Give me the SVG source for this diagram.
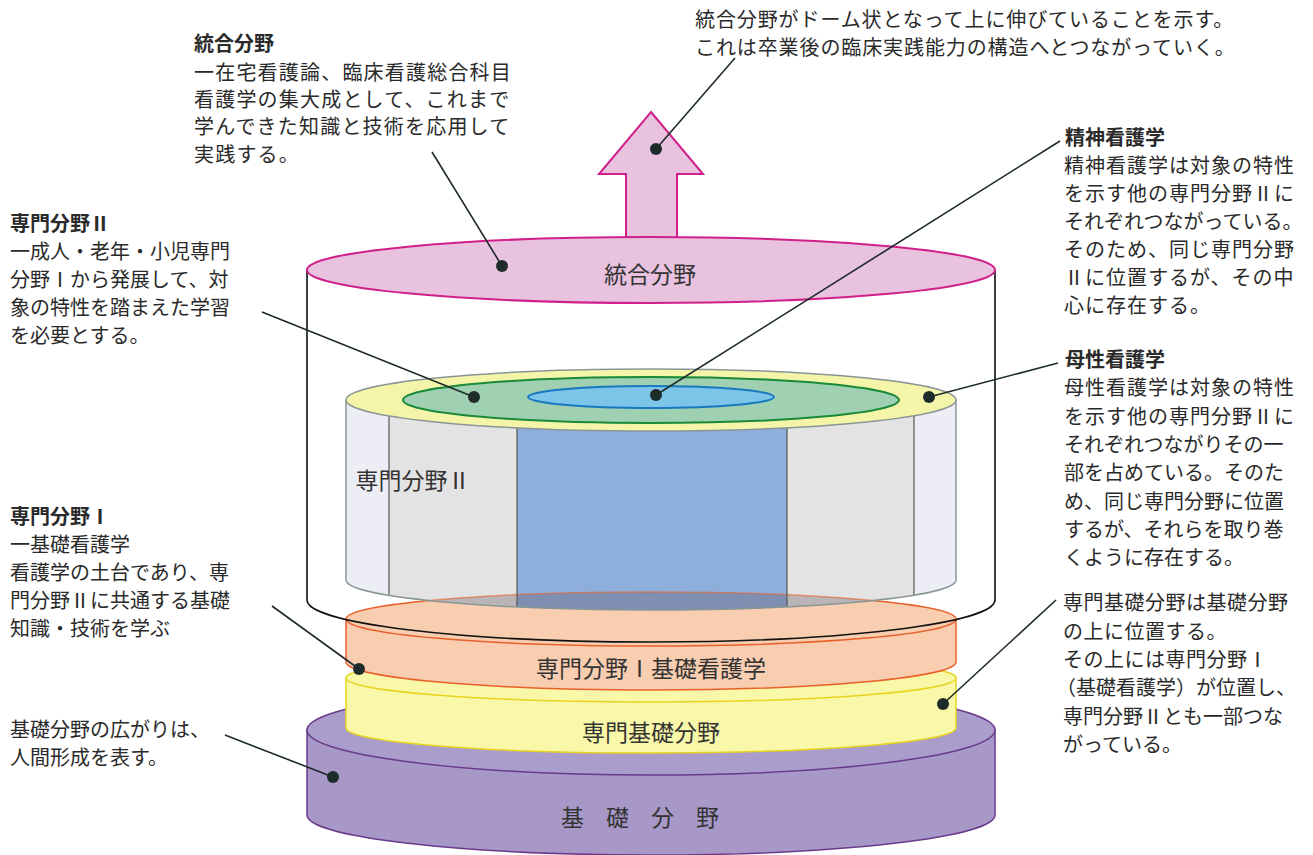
<svg xmlns="http://www.w3.org/2000/svg" width="1313" height="855" viewBox="0 0 1313 855">
<style>
.t{font-family:"Noto Sans CJK JP","Noto Sans",sans-serif;font-size:20px;fill:#2a2a2a}
.b{font-weight:bold}
.lbl{font-family:"Noto Sans CJK JP","Noto Sans",sans-serif;font-size:23px;fill:#333;text-anchor:middle}
.con{stroke:#1e2b2b;stroke-width:1.6;fill:none}
.dot{fill:#1e2b2b}
</style>
<defs>
<clipPath id="ringClip"><path d="M346,400 L346,580 A305,30 0 0 0 956,580 L956,400 Z"/></clipPath>
</defs>
<rect width="1313" height="855" fill="#ffffff"/>

<g id="kiso">
<path d="M307,730 L307,815 A344,40 0 0 0 995,815 L995,730 Z" fill="#a898c8" stroke="#6a3a8a" stroke-width="1.5"/>
<ellipse cx="651" cy="730" rx="344" ry="45" fill="#aa9ccb" stroke="#6a3a8a" stroke-width="1.5"/>
<text class="lbl" x="651" y="826" letter-spacing="22">基礎分野</text>
</g>

<g id="senmonkiso">
<path d="M346,678 L346,728 A305,25 0 0 0 956,728 L956,678 Z" fill="#f8f8a8" stroke="#e8d420" stroke-width="1.5"/>
<ellipse cx="651" cy="678" rx="305" ry="24" fill="#f8f8a8" stroke="#e8d420" stroke-width="1.5"/>
<text class="lbl" x="651" y="741">専門基礎分野</text>
</g>

<g id="senmon1">
<path d="M346,619 L346,662 A305,28 0 0 0 956,662 L956,619 Z" fill="#f8cdb0" stroke="#e8602a" stroke-width="1.5"/>
<ellipse cx="651" cy="619" rx="305" ry="27" fill="#f8cdb0" stroke="#e8602a" stroke-width="1.5"/>
<text class="lbl" x="651" y="677">専門分野Ⅰ基礎看護学</text>
</g>

<g id="outer">
<path d="M307,270 L307,600 A344,42 0 0 0 995,600 L995,270" fill="none" stroke="#111" stroke-width="1.6"/>
</g>

<g id="senmon2">
<g clip-path="url(#ringClip)">
<rect x="340" y="390" width="620" height="230" fill="#ededf5"/>
<rect x="389" y="390" width="525" height="230" fill="#e3e3e3"/>
<rect x="517" y="390" width="270" height="230" fill="#8eaedb"/>
<ellipse cx="651" cy="619" rx="305" ry="27" fill="#5a4a50" fill-opacity="0.3" stroke="#e8602a" stroke-opacity="0.6" stroke-width="1.5"/>
<path d="M389,400 V640 M517,400 V640 M787,400 V640 M914,400 V640" stroke="#555" stroke-width="1.2"/>
</g>
<path d="M346,400 L346,580 A305,30 0 0 0 956,580 L956,400" fill="none" stroke="#8a9696" stroke-width="1.5"/>
<ellipse cx="651" cy="400" rx="305" ry="31" fill="#f4f5a8" stroke="#8a9696" stroke-width="1.5"/>
<ellipse cx="651" cy="400" rx="248" ry="23" fill="#9fd0b2" stroke="#1a8a3a" stroke-width="2"/>
<ellipse cx="651" cy="397" rx="123" ry="11" fill="#7cc4e8" stroke="#1878c0" stroke-width="2"/>
<text class="lbl" x="413" y="489" font-size="22">専門分野Ⅱ</text>
</g>

<g id="tougou">
<polygon points="651,112 703,174 677,174 677,238 626,238 626,174 599,174" fill="#e8c2de" stroke="#d0208a" stroke-width="2"/>
<ellipse cx="651" cy="270" rx="344" ry="33" fill="#e8c2de" stroke="#d0208a" stroke-width="2"/>
<text class="lbl" x="650" y="283" font-size="24">統合分野</text>
</g>

<g id="connectors">
<line class="con" x1="432" y1="152" x2="502" y2="266"/>
<line class="con" x1="735" y1="58" x2="656" y2="149"/>
<line class="con" x1="1060" y1="141" x2="656" y2="395"/>
<line class="con" x1="1058" y1="363" x2="929" y2="397"/>
<line class="con" x1="262" y1="312" x2="474" y2="397"/>
<line class="con" x1="272" y1="606" x2="359" y2="669"/>
<line class="con" x1="225" y1="735" x2="333" y2="777"/>
<line class="con" x1="1056" y1="600" x2="943" y2="704"/>
<circle class="dot" cx="502" cy="266" r="6"/>
<circle class="dot" cx="656" cy="149" r="6"/>
<circle class="dot" cx="656" cy="395" r="6"/>
<circle class="dot" cx="929" cy="397" r="6"/>
<circle class="dot" cx="474" cy="397" r="6"/>
<circle class="dot" cx="359" cy="669" r="6"/>
<circle class="dot" cx="333" cy="777" r="6"/>
<circle class="dot" cx="943" cy="704" r="6"/>
</g>

<g id="note-tougou">
<text class="t b" x="194" y="51">統合分野</text>
<text class="t" x="194" y="80" letter-spacing="1.2">一在宅看護論、臨床看護総合科目</text>
<text class="t" x="194" y="107" letter-spacing="1.2">看護学の集大成として、これまで</text>
<text class="t" x="194" y="134" letter-spacing="1.2">学んできた知識と技術を応用して</text>
<text class="t" x="194" y="162" letter-spacing="1.2">実践する。</text>
</g>

<g id="note-dome">
<text class="t" x="695" y="27" letter-spacing="0.9">統合分野がドーム状となって上に伸びていることを示す。</text>
<text class="t" x="695" y="55" letter-spacing="0.9">これは卒業後の臨床実践能力の構造へとつながっていく。</text>
</g>

<g id="note-seishin">
<text class="t b" x="1065" y="145">精神看護学</text>
<text class="t" x="1064" y="173" letter-spacing="1">精神看護学は対象の特性</text>
<text class="t" x="1064" y="201" letter-spacing="1">を示す他の専門分野Ⅱに</text>
<text class="t" x="1064" y="229" letter-spacing="0">それぞれつながっている。</text>
<text class="t" x="1064" y="257" letter-spacing="1">そのため、同じ専門分野</text>
<text class="t" x="1064" y="285" letter-spacing="1">Ⅱに位置するが、その中</text>
<text class="t" x="1064" y="313" letter-spacing="1">心に存在する。</text>
</g>

<g id="note-bosei">
<text class="t b" x="1065" y="367">母性看護学</text>
<text class="t" x="1064" y="395" letter-spacing="1">母性看護学は対象の特性</text>
<text class="t" x="1064" y="424" letter-spacing="1">を示す他の専門分野Ⅱに</text>
<text class="t" x="1064" y="452" letter-spacing="0">それぞれつながりその一</text>
<text class="t" x="1064" y="480" letter-spacing="0">部を占めている。そのた</text>
<text class="t" x="1064" y="509" letter-spacing="0">め、同じ専門分野に位置</text>
<text class="t" x="1064" y="537" letter-spacing="0">するが、それらを取り巻</text>
<text class="t" x="1064" y="565" letter-spacing="0">くように存在する。</text>
</g>

<g id="note-senmonkiso">
<text class="t" x="1063" y="610" letter-spacing="0.5">専門基礎分野は基礎分野</text>
<text class="t" x="1063" y="639" letter-spacing="0.5">の上に位置する。</text>
<text class="t" x="1063" y="667" letter-spacing="0.5">その上には専門分野Ⅰ</text>
<text class="t" x="1056" y="695" letter-spacing="0">（基礎看護学）が位置し、</text>
<text class="t" x="1063" y="724" letter-spacing="0">専門分野Ⅱとも一部つな</text>
<text class="t" x="1063" y="752" letter-spacing="0">がっている。</text>
</g>

<g id="note-senmon2">
<text class="t b" x="10" y="231">専門分野Ⅱ</text>
<text class="t" x="10" y="259">一成人・老年・小児専門</text>
<text class="t" x="10" y="287">分野Ⅰから発展して、対</text>
<text class="t" x="10" y="315">象の特性を踏まえた学習</text>
<text class="t" x="10" y="343">を必要とする。</text>
</g>

<g id="note-senmon1">
<text class="t b" x="10" y="524">専門分野Ⅰ</text>
<text class="t" x="10" y="552">一基礎看護学</text>
<text class="t" x="10" y="580">看護学の土台であり、専</text>
<text class="t" x="10" y="608">門分野Ⅱに共通する基礎</text>
<text class="t" x="10" y="636">知識・技術を学ぶ</text>
</g>

<g id="note-kiso">
<text class="t" x="10" y="737">基礎分野の広がりは、</text>
<text class="t" x="10" y="765">人間形成を表す。</text>
</g>
</svg>
